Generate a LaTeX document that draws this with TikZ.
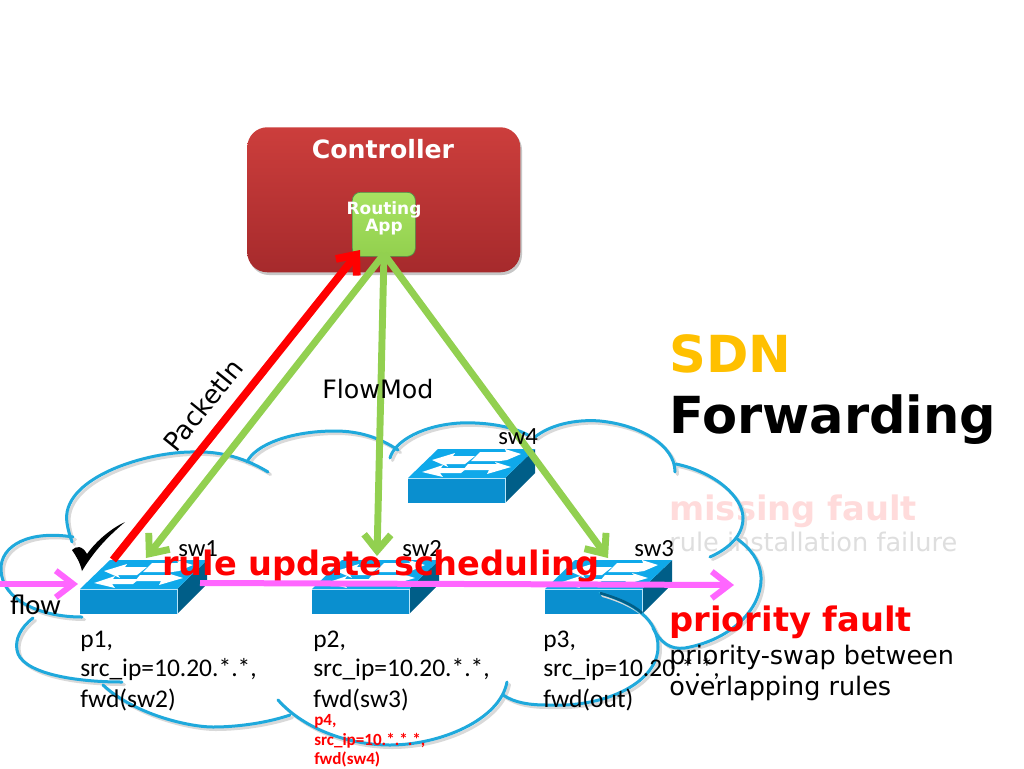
\documentclass[tikz,border=0pt]{standalone}
\usepackage{fontspec}
\setmainfont{DejaVu Sans}
\newfontfamily\calfont{Carlito}
\usetikzlibrary{arrows.meta}
\definecolor{cloudblue}{HTML}{1FA9DC}
\definecolor{swtop}{HTML}{0FA9EA}
\definecolor{swfront}{HTML}{0A8FCF}
\definecolor{swside}{HTML}{005E88}
\definecolor{green1}{HTML}{92D050}
\definecolor{flowpink}{HTML}{FF66FF}
\definecolor{sdn}{HTML}{FFC000}
\tikzset{
  lbl/.style={inner sep=0pt,anchor=base west,align=left},
  cloudpart/.style={line width=2.25pt,line cap=round},
  conn/.style={line width=5.2pt,line cap=butt,-{Straight Barb[length=12pt,width=20pt,line width=5.2pt]}},
  redconn/.style={line width=5.8pt,line cap=butt,draw=red,-{Straight Barb[length=12pt,width=20pt,line width=5.8pt]}},
  flowarrow/.style={line width=4.5pt,draw=flowpink,-{Straight Barb[length=13pt,width=20pt,line width=4.5pt]}},
  pics/switch/.style={code={
    \fill[swfront] (0,0) rectangle (97,25);
    \fill[swside] (97,0) -- (127,-29) -- (127,-5) -- (97,25) -- cycle;
    \fill[swtop] (0,0) -- (30,-29) -- (127,-29) -- (97,0) -- cycle;
    \draw[white!70!swtop,line width=.5pt] (0,0) -- (97,0) -- (97,25);
    \fill[white] (24,-18) -- (47,-25) -- (45,-22) -- (67,-22) -- (57,-14) -- (38,-14) -- (40,-11) -- cycle;
    \fill[white] (72,-26) -- (98,-26) -- (97,-29) -- (113,-24) -- (99,-18) -- (92,-17) -- (63,-17) -- cycle;
    \fill[white] (14,-6) -- (35,-13) -- (33,-10) -- (59,-10) -- (53,-5) -- (32,-5) -- (35,-1) -- cycle;
    \fill[white] (60,-14) -- (89,-14) -- (87,-16) -- (103,-11) -- (79,-4) -- (81,-8) -- (55,-8) -- cycle;
  }}
}
\begin{document}
\begin{tikzpicture}[x=0.75pt,y=-0.75pt]
\useasboundingbox (0,0) rectangle (1024,768);
\fill[white] (0,0) rectangle (1024,768);

% faded texts
\node[lbl,text=red!14] (missing) at (669,520) {\fontsize{25.3pt}{30pt}\bfseries\selectfont missing fault};
\node[lbl,text=black!13] (install) at (669,551) {\fontsize{19.2pt}{22pt}\selectfont rule installation failure};

% switches
\pic at (408,478) {switch};
\pic at (80,589) {switch};
\pic at (312,589) {switch};
\pic at (545,589) {switch};

% cloud
\def\cloudshape#1{%
  \draw[#1] (73,537) .. controls (30,530) and (0,545) .. (1,570) .. controls (2,600) and (40,617) .. (82,617);
  \draw[#1] (33,618) .. controls (20,628) and (15,640) .. (17,650) .. controls (20,672) and (70,682) .. (122,682);
  \draw[#1] (103,685) .. controls (135,715) and (190,727) .. (213,727) .. controls (240,727) and (270,722) .. (290,715);
  \draw[#1] (278,700) .. controls (305,730) and (350,745) .. (390,745) .. controls (440,745) and (500,720) .. (507,682);
  \draw[#1] (503,695) .. controls (515,703) and (530,705) .. (547,705) .. controls (610,708) and (658,680) .. (658,647) .. controls (658,620) and (635,603) .. (600,593);
  \draw[#1] (653,628) .. controls (660,642) and (670,650) .. (685,648) .. controls (730,640) and (762,610) .. (761,577) .. controls (760,560) and (750,548) .. (736,538);
  \draw[#1] (710,557) .. controls (730,548) and (743,535) .. (743,518) .. controls (743,497) and (715,472) .. (676,464);
  \draw[#1] (675,472) .. controls (675,445) and (640,425) .. (600,421) .. controls (575,419) and (550,425) .. (535,437);
  \draw[#1] (528,435) .. controls (510,425) and (480,422) .. (460,423) .. controls (425,425) and (395,440) .. (390,458);
  \draw[#1] (398,450) .. controls (380,438) and (360,431) .. (335,431) .. controls (290,431) and (255,445) .. (247,462);
  \draw[#1] (268,472) .. controls (240,455) and (215,451) .. (190,452) .. controls (140,453) and (60,480) .. (67,523) .. controls (68,530) and (70,536) .. (72,542);
}
\begin{scope}[shift={(2.5,2.5)}]\cloudshape{cloudpart,draw=black!15}\end{scope}
\cloudshape{cloudpart,draw=cloudblue}
\draw[swside,line width=2pt] (600,593) .. controls (617,598) and (632,604) .. (642,613);

% controller
\fill[black!22,rounded corners=15pt] (249,130) rectangle (522,275);
\node[inner sep=0pt,minimum width=204.75pt,minimum height=108.75pt,rounded corners=15pt,
      anchor=north west,top color={rgb,255:red,204;green,62;blue,60},bottom color={rgb,255:red,166;green,42;blue,44}] (ctrl) at (247,127) {};
\node[text=white,inner sep=0pt,anchor=base] (ctrltxt) at (383,158) {\fontsize{18.9pt}{22pt}\bfseries\selectfont Controller};
\node[inner sep=0pt,minimum width=47.25pt,minimum height=48pt,rounded corners=6pt,anchor=north west,draw=green!40!black!70,line width=.5pt,
      top color={rgb,255:red,168;green,226;blue,98},bottom color={rgb,255:red,146;green,208;blue,78}] (app) at (352,192) {};
\node[text=white,inner sep=0pt,anchor=base] (routing) at (384,214) {\fontsize{12.7pt}{14pt}\bfseries\selectfont Routing};
\node[text=white,inner sep=0pt,anchor=base] (apptxt) at (384,231) {\fontsize{12.7pt}{14pt}\bfseries\selectfont App};

% connector ends
\coordinate (tipA) at (146,558);
\coordinate (tipB) at (377,556);
\coordinate (tipC) at (608,558);
\coordinate (redS) at (113,560);
\coordinate (redT) at (360,250);
\coordinate (appS) at (384,254);
\draw[conn,draw=green1] (appS) -- (tipA);
\draw[conn,draw=green1] (appS) -- (tipB);
\draw[conn,draw=green1] (appS) -- (tipC);
\draw[redconn] (redS) -- (redT);

% check mark
\fill[black] (72,550) .. controls (76,546) and (82,545) .. (87,554) .. controls (97,540) and (112,528) .. (125,522) .. controls (110,535) and (96,548) .. (82,571) .. controls (80,562) and (76,556) .. (72,550) -- cycle;

% labels
\node[lbl] (sw1) at (178,556) {\calfont\fontsize{18.5pt}{20pt}\selectfont sw1};
\node[lbl] (sw2) at (402,556) {\calfont\fontsize{18.5pt}{20pt}\selectfont sw2};
\node[lbl] (sw3) at (634,556) {\calfont\fontsize{18.5pt}{20pt}\selectfont sw3};
\node[lbl] (sw4) at (498,444) {\calfont\fontsize{18.5pt}{20pt}\selectfont sw4};
\node[lbl] (flow) at (10,614) {\calfont\fontsize{21.4pt}{24pt}\selectfont flow};
\node[lbl] (fm) at (322,398) {\fontsize{19pt}{22pt}\selectfont FlowMod};
\node[inner sep=0pt,rotate=51] (pi) at (203,405) {\fontsize{19.5pt}{22pt}\selectfont PacketIn};

\node[lbl] (t1) at (80,647) {\calfont\fontsize{19.1pt}{22pt}\selectfont p1,};
\node[lbl] at (80,676) (t1b) {\calfont\fontsize{19.1pt}{22pt}\selectfont src\_ip=10.20.*.*,};
\node[lbl] at (80,707) (t1c) {\calfont\fontsize{19.1pt}{22pt}\selectfont fwd(sw2)};
\node[lbl] (t2) at (313,647) {\calfont\fontsize{19.1pt}{22pt}\selectfont p2,};
\node[lbl] at (313,676) (t2b) {\calfont\fontsize{19.1pt}{22pt}\selectfont src\_ip=10.20.*.*,};
\node[lbl] at (313,707) (t2c) {\calfont\fontsize{19.1pt}{22pt}\selectfont fwd(sw3)};
\node[lbl] (t3) at (543,647) {\calfont\fontsize{19.1pt}{22pt}\selectfont p3,};
\node[lbl] at (543,676) (t3b) {\calfont\fontsize{19.1pt}{22pt}\selectfont src\_ip=10.20.*.*,};
\node[lbl] at (543,707) (t3c) {\calfont\fontsize{19.1pt}{22pt}\selectfont fwd(out)};
\node[lbl,text=red] (t4) at (314,725) {\calfont\bfseries\fontsize{12.8pt}{15pt}\selectfont p4,};
\node[lbl,text=red] at (314,745) (t4b) {\calfont\bfseries\fontsize{12.8pt}{15pt}\selectfont src\_ip=10.*.*.*,};
\node[lbl,text=red] at (314,764) (t4c) {\calfont\bfseries\fontsize{12.8pt}{15pt}\selectfont fwd(sw4)};

% update text and flows
\node[lbl,text=red] (rus) at (162,575) {\fontsize{25.2pt}{28pt}\bfseries\selectfont rule update scheduling};
\coordinate (f1s) at (0,584);
\coordinate (f1t) at (78,584);
\coordinate (f2s) at (200,583);
\coordinate (f2t) at (734,585);
\draw[flowarrow] (f1s) -- (f1t);
\draw[flowarrow] (f2s) -- (f2t);

% right column
\node[lbl,text=sdn] (sdnt) at (669,372) {\fontsize{38.3pt}{42pt}\bfseries\selectfont SDN};
\node[lbl] (fwd) at (669,433) {\fontsize{38.3pt}{42pt}\bfseries\selectfont Forwarding};
\node[lbl,text=red] (pf) at (669,631) {\fontsize{25.3pt}{30pt}\bfseries\selectfont priority fault};
\node[lbl] (ps) at (669,664) {\fontsize{19.1pt}{22pt}\selectfont priority-swap between};
\node[lbl] (ov) at (669,695) {\fontsize{19.1pt}{22pt}\selectfont overlapping rules};
\end{tikzpicture}
\end{document}
